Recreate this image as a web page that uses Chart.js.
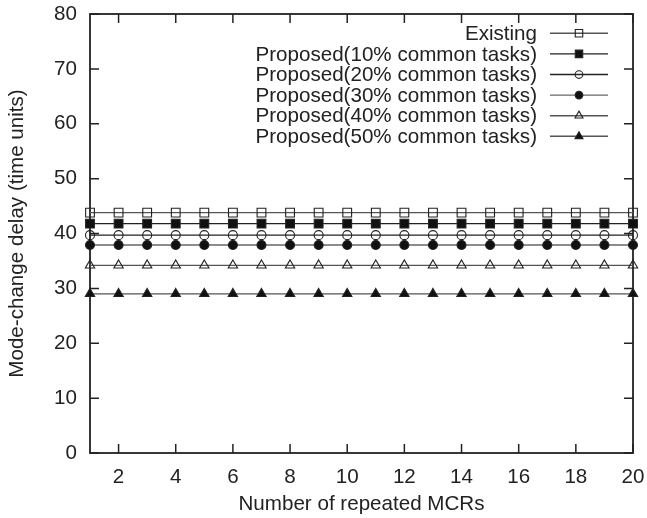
<!DOCTYPE html>
<html><head><meta charset="utf-8">
<script src="https://cdn.jsdelivr.net/npm/chart.js@4/dist/chart.umd.min.js"></script>
<style>html,body{margin:0;padding:0;background:#fff}#wrap{width:647px;height:518px}</style>
</head><body><div id="wrap"><canvas id="c" width="647" height="518"></canvas></div>
<script>
// ---- data ----
const xValues = [1,2,3,4,5,6,7,8,9,10,11,12,13,14,15,16,17,18,19,20];
const seriesLabels = ['Existing','Proposed(10% common tasks)','Proposed(20% common tasks)','Proposed(30% common tasks)','Proposed(40% common tasks)','Proposed(50% common tasks)'];
const existing = [43.8,43.8,43.8,43.8,43.8,43.8,43.8,43.8,43.8,43.8,43.8,43.8,43.8,43.8,43.8,43.8,43.8,43.8,43.8,43.8];
const proposed10 = [41.8,41.8,41.8,41.8,41.8,41.8,41.8,41.8,41.8,41.8,41.8,41.8,41.8,41.8,41.8,41.8,41.8,41.8,41.8,41.8];
const proposed20 = [39.7,39.7,39.7,39.7,39.7,39.7,39.7,39.7,39.7,39.7,39.7,39.7,39.7,39.7,39.7,39.7,39.7,39.7,39.7,39.7];
const proposed30 = [37.9,37.9,37.9,37.9,37.9,37.9,37.9,37.9,37.9,37.9,37.9,37.9,37.9,37.9,37.9,37.9,37.9,37.9,37.9,37.9];
const proposed40 = [34.2,34.2,34.2,34.2,34.2,34.2,34.2,34.2,34.2,34.2,34.2,34.2,34.2,34.2,34.2,34.2,34.2,34.2,34.2,34.2];
const proposed50 = [29.0,29.0,29.0,29.0,29.0,29.0,29.0,29.0,29.0,29.0,29.0,29.0,29.0,29.0,29.0,29.0,29.0,29.0,29.0,29.0];
const xTickValues = [2,4,6,8,10,12,14,16,18,20];
const yTickValues = [0,10,20,30,40,50,60,70,80];
const xTitle = 'Number of repeated MCRs';
const yTitle = 'Mode-change delay (time units)';

// ---- styles ----
const FONT = '"Liberation Sans", Arial, Helvetica, sans-serif';
const FS = 20.6;
const styles = [
  {line:'#555', style:'rect', r:6.2, fill:'rgba(0,0,0,0)'},
  {line:'#222', style:'rect', r:6.2, fill:'#111'},
  {line:'#222', style:'circle', r:4.5, fill:'rgba(0,0,0,0)'},
  {line:'#666', style:'circle', r:4.5, fill:'#111'},
  {line:'#555', style:'triangle', r:5.4, fill:'rgba(0,0,0,0)'},
  {line:'#555', style:'triangle', r:5.4, fill:'#111'}
];
const allSeries = [existing, proposed10, proposed20, proposed30, proposed40, proposed50];

const datasets = allSeries.map((s, i) => ({
  label: seriesLabels[i],
  data: xValues.map((x, j) => ({x: x, y: s[j]})),
  borderColor: styles[i].line,
  borderWidth: 1.4,
  pointStyle: styles[i].style,
  pointRadius: styles[i].r,
  pointBackgroundColor: styles[i].fill,
  pointBorderColor: '#222',
  pointBorderWidth: 1.1,
  clip: false,
  tension: 0
}));

const framePlugin = {
  id: 'frame',
  beforeDatasetsDraw(chart) {
    const {ctx, chartArea: ca, scales} = chart;
    const L = 9;
    ctx.save();
    ctx.strokeStyle = '#222';
    ctx.lineWidth = 1.5;
    ctx.beginPath();
    scales.x.ticks.forEach(t => {
      const px = scales.x.getPixelForValue(t.value);
      ctx.moveTo(px, ca.bottom); ctx.lineTo(px, ca.bottom - L);
      ctx.moveTo(px, ca.top); ctx.lineTo(px, ca.top + L);
    });
    scales.y.ticks.forEach(t => {
      const py = scales.y.getPixelForValue(t.value);
      ctx.moveTo(ca.left, py); ctx.lineTo(ca.left + L, py);
      ctx.moveTo(ca.right, py); ctx.lineTo(ca.right - L, py);
    });
    ctx.stroke();
    ctx.lineWidth = 1.8;
    ctx.strokeRect(ca.left, ca.top, ca.right - ca.left, ca.bottom - ca.top);
    ctx.restore();
  }
};

const legendPlugin = {
  id: 'insideLegend',
  afterDraw(chart) {
    const {ctx, chartArea: ca} = chart;
    const textRight = ca.right - 96;
    const lineL = ca.right - 83, lineR = ca.right - 25;
    const y0 = ca.top + 19.3, dy = 20.6;
    chart.data.datasets.forEach((ds, i) => {
      const y = y0 + i * dy;
      ctx.save();
      ctx.font = FS + 'px ' + FONT;
      ctx.fillStyle = '#222';
      ctx.textAlign = 'right';
      ctx.textBaseline = 'middle';
      ctx.fillText(ds.label, textRight, y + 1);
      ctx.strokeStyle = ds.borderColor;
      ctx.lineWidth = ds.borderWidth;
      ctx.beginPath(); ctx.moveTo(lineL, y); ctx.lineTo(lineR, y); ctx.stroke();
      ctx.fillStyle = ds.pointBackgroundColor;
      ctx.strokeStyle = ds.pointBorderColor;
      ctx.lineWidth = ds.pointBorderWidth;
      Chart.helpers.drawPoint(ctx, {pointStyle: ds.pointStyle, radius: ds.pointRadius * 0.85, borderWidth: ds.pointBorderWidth, rotation: 0}, (lineL + lineR) / 2, y);
      ctx.restore();
    });
  }
};

new Chart(document.getElementById('c'), {
  type: 'line',
  data: {datasets: datasets},
  options: {
    responsive: false,
    animation: false,
    devicePixelRatio: 1,
    layout: {padding: {top: 14, right: 14, left: 0, bottom: 0}},
    plugins: {legend: {display: false}, tooltip: {enabled: false}},
    scales: {
      x: {
        type: 'linear', min: 1, max: 20,
        afterBuildTicks: s => { s.ticks = xTickValues.map(v => ({value: v})); },
        afterFit: s => { s.height = 65; s.paddingLeft = 0; s.paddingRight = 0; },
        grid: {display: false, drawTicks: false},
        border: {display: false},
        ticks: {padding: 12, color: '#222', font: {family: FONT, size: FS}, maxRotation: 0, autoSkip: false},
        title: {display: true, text: xTitle, color: '#222', font: {family: FONT, size: FS}, padding: {top: 0, bottom: 1}}
      },
      y: {
        type: 'linear', min: 0, max: 80,
        afterBuildTicks: s => { s.ticks = yTickValues.map(v => ({value: v})); },
        afterFit: s => { s.width = 90; s.paddingTop = 0; s.paddingBottom = 0; },
        grid: {display: false, drawTicks: false},
        border: {display: false},
        ticks: {padding: 13, color: '#222', font: {family: FONT, size: FS}, autoSkip: false},
        title: {display: true, text: yTitle, color: '#222', font: {family: FONT, size: FS}, padding: {top: 5, bottom: 0}}
      }
    }
  },
  plugins: [framePlugin, legendPlugin]
});
</script></body></html>
